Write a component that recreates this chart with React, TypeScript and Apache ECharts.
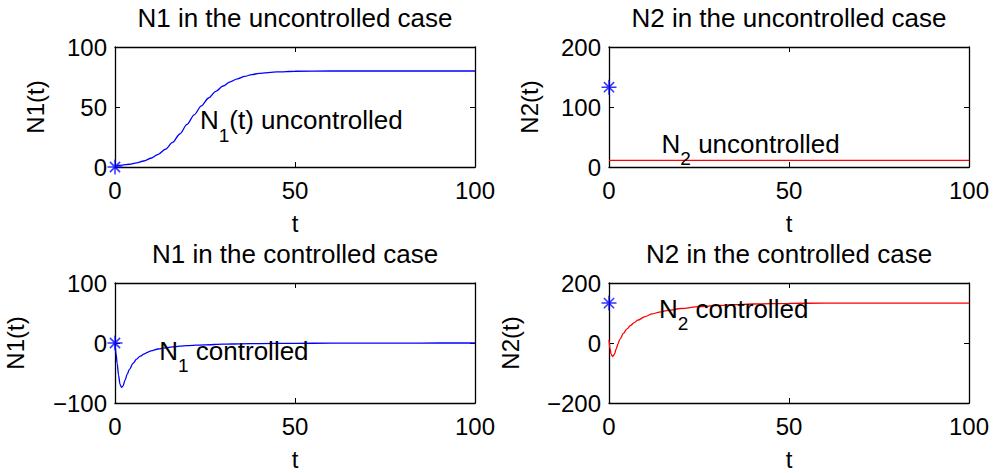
import React, { useEffect, useRef } from "react";
import * as echarts from "echarts";

// ---- data ----
const T_N1_UNC = [0, 2, 4, 6, 8, 10, 12, 14, 16, 18, 20, 22, 24, 26, 28, 30, 32, 34, 36, 38, 40, 45, 50, 60, 70, 80, 90, 100];
const N1_UNC = [1.0, 1.5, 2.3, 3.4, 5.0, 7.3, 10.5, 14.8, 20.5, 27.5, 35.5, 43.5, 51, 57.5, 63, 67.5, 71, 73.5, 75.5, 77, 78, 79.3, 79.8, 80, 80, 80, 80, 80];

const T_N2_UNC = [0, 25, 50, 75, 100];
const N2_UNC = [11, 11, 11, 11, 11];

const T_N1_CTRL = [0, 0.3, 0.6, 1, 1.4, 1.8, 2.2, 2.8, 3.4, 4, 5, 6, 7, 8, 9, 10, 12, 14, 16, 18, 20, 25, 30, 35, 40, 50, 60, 70, 80, 90, 100];
const N1_CTRL = [0, -18, -34, -54, -69, -74, -72, -62, -52, -44, -34, -27, -22, -18.5, -15.5, -13, -10, -8, -6.5, -5.3, -4.4, -3, -2, -1.4, -1, -0.5, -0.3, -0.2, -0.1, 0, 0];

const T_N2_CTRL = [0, 0.3, 0.6, 1, 1.5, 2, 2.5, 3, 4, 5, 6, 7, 8, 10, 12, 14, 16, 20, 25, 30, 35, 40, 50, 60, 70, 80, 100];
const N2_CTRL = [11, -20, -38, -45, -38, -20, -3, 12, 32, 47, 59, 68, 76, 88, 97, 103, 108, 115, 121, 125, 128, 130, 132, 133, 133, 133, 133];

// equilibrium markers (asterisks at t = 0)
const EQ_T = 0;
const EQ_N1 = 0;
const EQ_N2 = 133;

const TITLES = [
  "N1 in the uncontrolled case",
  "N2 in the uncontrolled case",
  "N1 in the controlled case",
  "N2 in the controlled case",
];
const Y_NAMES = ["N1(t)", "N2(t)", "N1(t)", "N2(t)"];
const X_NAME = "t";
const X_RANGE = [0, 100, 50];
const Y_RANGES = [
  [0, 100, 50],
  [0, 200, 100],
  [-100, 100, 100],
  [-200, 200, 200],
];

// annotations: [main, subscript, rest, t, value]
const ANNOTS: [string, string, string, number, number][] = [
  ["N", "1", "(t) uncontrolled", 23.6, 39],
  ["N", "2", " uncontrolled", 14.6, 38.8],
  ["N", "1", " controlled", 12.3, -13.3],
  ["N", "2", " controlled", 13.9, 115],
];

// ---- layout ----
const FONT = "Liberation Sans, Arial, Helvetica, sans-serif";
const GRID_LEFT = [115, 609, 115, 609];
const GRID_TOP = [47, 47, 283, 283];
const GRID_W = 360;
const GRID_H = 120;
const Y_NAME_GAP = [68, 68, 88, 87];
const ANN_SIZE = 26;
const SUB_SIZE = 19;
const SUB_DROP = 15;

const pairs = (t: number[], v: number[]) => t.map((x, i) => [x, v[i]]);

let measureCtx: CanvasRenderingContext2D | null = null;
function textWidth(s: string, size: number) {
  if (!measureCtx) measureCtx = document.createElement("canvas").getContext("2d");
  if (!measureCtx) return s.length * size * 0.5;
  measureCtx.font = `${size}px ${FONT}`;
  return measureCtx.measureText(s).width;
}

export default function App() {
  const ref = useRef<HTMLDivElement>(null);

  useEffect(() => {
    document.body.style.margin = "0";
    if (!ref.current) return;
    const chart = echarts.init(ref.current, undefined, { renderer: "svg" });

    const grids: any[] = [];
    const xAxes: any[] = [];
    const yAxes: any[] = [];
    const graphics: any[] = [];

    for (let i = 0; i < 4; i++) {
      grids.push({
        left: GRID_LEFT[i],
        top: GRID_TOP[i],
        width: GRID_W,
        height: GRID_H,
        containLabel: false,
      });
      const [ymin, ymax, yint] = Y_RANGES[i];
      const common = {
        gridIndex: i,
        axisLine: { show: true, onZero: false, lineStyle: { color: "#000", width: 1.3 } },
        axisTick: { show: true, inside: true, length: 5, lineStyle: { color: "#000", width: 1 } },
        splitLine: { show: false },
      };
      xAxes.push({
        ...common,
        type: "value",
        position: "bottom",
        min: X_RANGE[0],
        max: X_RANGE[1],
        interval: X_RANGE[2],
        name: X_NAME,
        nameLocation: "middle",
        nameGap: 44,
        nameTextStyle: { color: "#000", fontSize: 24, fontFamily: FONT },
        axisLabel: { color: "#000", fontSize: 24, fontFamily: FONT, margin: 11 },
      });
      xAxes.push({
        ...common,
        type: "value",
        position: "top",
        min: X_RANGE[0],
        max: X_RANGE[1],
        interval: X_RANGE[2],
        axisLabel: { show: false },
      });
      yAxes.push({
        ...common,
        type: "value",
        position: "left",
        min: ymin,
        max: ymax,
        interval: yint,
        name: Y_NAMES[i],
        nameLocation: "middle",
        nameRotate: 90,
        nameGap: Y_NAME_GAP[i],
        nameTextStyle: { color: "#000", fontSize: 24, fontFamily: FONT },
        axisLabel: {
          color: "#000",
          fontSize: 24,
          fontFamily: FONT,
          margin: 8,
          formatter: (v: number) => String(v).replace("-", "\u2212"),
        },
      });
      yAxes.push({
        ...common,
        type: "value",
        position: "right",
        min: ymin,
        max: ymax,
        interval: yint,
        axisLabel: { show: false },
      });

      // title
      graphics.push({
        type: "text",
        x: GRID_LEFT[i] + GRID_W / 2,
        y: GRID_TOP[i] - 29.5,
        style: {
          text: TITLES[i],
          align: "center",
          verticalAlign: "middle",
          fontSize: 26,
          fontFamily: FONT,
          fill: "#000",
        },
      });

      // annotation: main letter, subscript, rest of the text
      const [m, s, r, at, av] = ANNOTS[i];
      const ax = GRID_LEFT[i] + ((at - X_RANGE[0]) / (X_RANGE[1] - X_RANGE[0])) * GRID_W;
      const ay = GRID_TOP[i] + ((ymax - av) / (ymax - ymin)) * GRID_H;
      const wM = textWidth(m, ANN_SIZE);
      const wS = textWidth(s, SUB_SIZE);
      const base = { verticalAlign: "middle", align: "left", fontFamily: FONT, fill: "#000" };
      graphics.push({
        type: "text",
        x: ax,
        y: ay,
        z: 100,
        style: { ...base, text: m, fontSize: ANN_SIZE },
      });
      graphics.push({
        type: "text",
        x: ax + wM,
        y: ay + SUB_DROP,
        z: 100,
        style: { ...base, text: s, fontSize: SUB_SIZE },
      });
      graphics.push({
        type: "text",
        x: ax + wM + wS,
        y: ay,
        z: 100,
        style: { ...base, text: r, fontSize: ANN_SIZE },
      });
    }

    const lineSeries = (idx: number, data: number[][], color: string) => ({
      type: "line",
      xAxisIndex: idx * 2,
      yAxisIndex: idx * 2,
      data,
      showSymbol: false,
      smooth: 0.3,
      smoothMonotone: "x",
      lineStyle: { color, width: 1.3 },
      z: 3,
    });
    const star = "path://M0,5L10,5M5,0L5,10M1.6,1.6L8.4,8.4M1.6,8.4L8.4,1.6";
    const starSeries = (idx: number, v: number) => ({
      type: "scatter",
      xAxisIndex: idx * 2,
      yAxisIndex: idx * 2,
      data: [[EQ_T, v]],
      symbol: star,
      symbolSize: 15,
      clip: false,
      itemStyle: { color: "transparent", borderColor: "#0000ff", borderWidth: 1.5 },
      z: 4,
    });

    chart.setOption({
      animation: false,
      backgroundColor: "#fff",
      grid: grids,
      xAxis: xAxes,
      yAxis: yAxes,
      series: [
        lineSeries(0, pairs(T_N1_UNC, N1_UNC), "#0000ff"),
        starSeries(0, EQ_N1),
        lineSeries(1, pairs(T_N2_UNC, N2_UNC), "#ff0000"),
        starSeries(1, EQ_N2),
        lineSeries(2, pairs(T_N1_CTRL, N1_CTRL), "#0000ff"),
        starSeries(2, EQ_N1),
        lineSeries(3, pairs(T_N2_CTRL, N2_CTRL), "#ff0000"),
        starSeries(3, EQ_N2),
      ],
      graphic: graphics,
    });

    return () => chart.dispose();
  }, []);

  return <div ref={ref} style={{ width: 995, height: 473 }} />;
}
